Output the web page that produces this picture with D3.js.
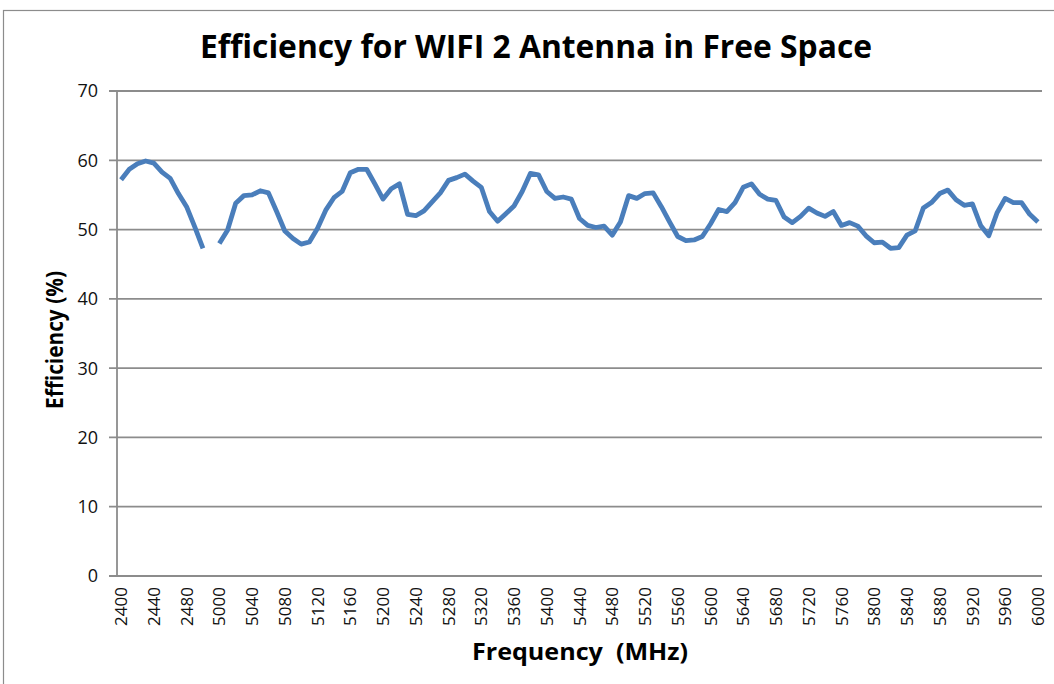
<!DOCTYPE html>
<html>
<head>
<meta charset="utf-8">
<script src="https://cdn.jsdelivr.net/npm/d3@7"></script>
<style>
  body { margin: 0; background: #fff; }
  svg { display: block; font-family: "Open Sans", sans-serif; }
</style>
</head>
<body>
<svg id="chart" width="1054" height="684"></svg>
<script>
// 2.4 GHz band (MHz)
const freq24 = [2400, 2410, 2420, 2430, 2440, 2450, 2460, 2470, 2480, 2490, 2500];
const eff24 = [57.2, 58.7, 59.5, 59.9, 59.6, 58.3, 57.4, 55.2, 53.3, 50.4, 47.3];

// 5 GHz band (MHz)
const freq5 = [
  5000, 5010, 5020, 5030, 5040, 5050, 5060, 5070, 5080, 5090,
  5100, 5110, 5120, 5130, 5140, 5150, 5160, 5170, 5180, 5190,
  5200, 5210, 5220, 5230, 5240, 5250, 5260, 5270, 5280, 5290,
  5300, 5310, 5320, 5330, 5340, 5350, 5360, 5370, 5380, 5390,
  5400, 5410, 5420, 5430, 5440, 5450, 5460, 5470, 5480, 5490,
  5500, 5510, 5520, 5530, 5540, 5550, 5560, 5570, 5580, 5590,
  5600, 5610, 5620, 5630, 5640, 5650, 5660, 5670, 5680, 5690,
  5700, 5710, 5720, 5730, 5740, 5750, 5760, 5770, 5780, 5790,
  5800, 5810, 5820, 5830, 5840, 5850, 5860, 5870, 5880, 5890,
  5900, 5910, 5920, 5930, 5940, 5950, 5960, 5970, 5980, 5990,
  6000
];
const eff5 = [
  48.0, 49.9, 53.8, 54.9, 55.0, 55.6, 55.3, 52.6, 49.8, 48.7,
  47.9, 48.2, 50.2, 52.8, 54.6, 55.5, 58.2, 58.7, 58.7, 56.6,
  54.4, 55.9, 56.6, 52.2, 52.0, 52.7, 54.0, 55.3, 57.1, 57.5,
  58.0, 57.0, 56.1, 52.6, 51.2, 52.3, 53.4, 55.5, 58.1, 57.9,
  55.5, 54.5, 54.7, 54.4, 51.6, 50.6, 50.3, 50.5, 49.2, 51.1,
  54.9, 54.5, 55.2, 55.3, 53.3, 51.1, 49.0, 48.4, 48.5, 49.0,
  50.8, 52.9, 52.6, 53.9, 56.1, 56.6, 55.1, 54.4, 54.2, 51.8,
  51.0, 51.9, 53.1, 52.4, 51.9, 52.6, 50.6, 51.0, 50.5, 49.1,
  48.1, 48.2, 47.3, 47.4, 49.2, 49.8, 53.1, 53.9, 55.2, 55.7,
  54.3, 53.5, 53.7, 50.6, 49.1, 52.4, 54.5, 53.9, 53.9, 52.2,
  51.1
];

const yTicks = [0, 10, 20, 30, 40, 50, 60, 70];

// one empty category between the two bands (gap in the line)
const categories = freq24.map(String).concat([""], freq5.map(String));
const values = eff24.concat([null], eff5);
const data = categories.map((c, i) => ({ key: i, label: c, value: values[i] }));

const svg = d3.select("#chart");
const plot = { left: 117, right: 1042, top: 91, bottom: 576 };

// chart border
svg.append("rect")
  .attr("x", 3.5).attr("y", 10.5)
  .attr("width", 1200).attr("height", 800)
  .attr("fill", "#fff")
  .attr("stroke", "#8c8c8c")
  .attr("stroke-width", 1.2);

const x = d3.scalePoint()
  .domain(data.map(d => d.key))
  .range([plot.left, plot.right])
  .padding(0.5);

const y = d3.scaleLinear()
  .domain([0, 70])
  .range([plot.bottom, plot.top]);

// gridlines + y ticks
svg.append("g").selectAll("line")
  .data(yTicks)
  .enter().append("line")
  .attr("x1", plot.left - 8)
  .attr("x2", plot.right)
  .attr("y1", d => y(d))
  .attr("y2", d => y(d))
  .attr("stroke", "#8c8c8c")
  .attr("stroke-width", 1.8);

// y axis line
svg.append("line")
  .attr("x1", plot.left).attr("x2", plot.left)
  .attr("y1", plot.top).attr("y2", plot.bottom)
  .attr("stroke", "#8c8c8c")
  .attr("stroke-width", 1.8);

// y tick labels
svg.append("g").selectAll("text")
  .data(yTicks)
  .enter().append("text")
  .attr("x", 98)
  .attr("y", d => y(d))
  .attr("dy", "0.36em")
  .attr("text-anchor", "end")
  .style("font-size", "18px")
  .attr("fill", "#111")
  .text(d => d);

// x tick labels, every 4th category
svg.append("g").selectAll("text")
  .data(data.filter((d, i) => i % 4 === 0))
  .enter().append("text")
  .attr("transform", d => "translate(" + x(d.key) + ",587) rotate(-90)")
  .attr("dy", "0.36em")
  .attr("text-anchor", "end")
  .style("font-size", "17px")
  .attr("fill", "#111")
  .text(d => d.label);

// efficiency line
const line = d3.line()
  .defined(d => d.value != null)
  .x(d => x(d.key))
  .y(d => y(d.value));

svg.append("path")
  .datum(data)
  .attr("d", line)
  .attr("fill", "none")
  .attr("stroke", "#4a7ebb")
  .attr("stroke-width", 4.8)
  .attr("stroke-linejoin", "round")
  .attr("stroke-linecap", "butt");

// titles
svg.append("text")
  .attr("x", 536).attr("y", 58)
  .attr("text-anchor", "middle")
  .style("font-size", "32px")
  .style("font-weight", "bold")
  .attr("textLength", 672)
  .attr("lengthAdjust", "spacingAndGlyphs")
  .attr("fill", "#000")
  .text("Efficiency for WIFI 2 Antenna in Free Space");

svg.append("text")
  .attr("x", 580).attr("y", 660)
  .attr("text-anchor", "middle")
  .style("font-size", "24px")
  .style("font-weight", "bold")
  .style("white-space", "pre")
  .attr("textLength", 216)
  .attr("lengthAdjust", "spacingAndGlyphs")
  .attr("fill", "#000")
  .text("Frequency  (MHz)");

svg.append("text")
  .attr("transform", "translate(63,340) rotate(-90)")
  .attr("text-anchor", "middle")
  .style("font-size", "24px")
  .style("font-weight", "bold")
  .attr("textLength", 138)
  .attr("lengthAdjust", "spacingAndGlyphs")
  .attr("fill", "#000")
  .text("Efficiency (%)");
</script>
</body>
</html>
